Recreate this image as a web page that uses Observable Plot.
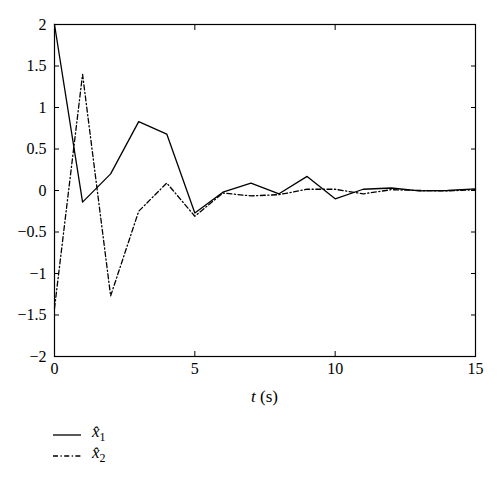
<!DOCTYPE html>
<html>
<head>
<meta charset="utf-8">
<script src="https://cdn.jsdelivr.net/npm/d3@7"></script>
<script src="https://cdn.jsdelivr.net/npm/@observablehq/plot@0.6"></script>
<style>
  body { margin: 0; background: #fff; font-family: "Liberation Serif", "DejaVu Serif", serif; }
  #chart svg { display: block; }
  .legend { position: relative; height: 71px; font-family: "Liberation Serif", serif; font-size: 17px; color: #000; }
  .legend .row { position: absolute; left: 53px; display: flex; align-items: center; }
  .legend svg { display: block; }
  .legend span { margin-left: 11px; font-style: italic; line-height: 20px; }
  .legend sub { font-style: normal; font-size: 12px; }
</style>
</head>
<body>
<div id="chart"></div>
<div class="legend" id="legend"></div>
<script>
const t = [0,1,2,3,4,5,6,7,8,9,10,11,12,13,14,15];
const x1 = [2, -0.14, 0.2, 0.83, 0.68, -0.27, -0.02, 0.09, -0.04, 0.17, -0.1, 0.015, 0.03, -0.005, 0, 0.02];
const x2 = [-1.42, 1.4, -1.27, -0.25, 0.09, -0.31, -0.03, -0.065, -0.05, 0.015, 0.015, -0.04, 0.01, 0, -0.005, 0.01];
const xTicks = [0, 5, 10, 15];
const yTicks = [-2, -1.5, -1, -0.5, 0, 0.5, 1, 1.5, 2];
const seriesNames = ["x̂", "x̂"];

const d1 = t.map((v, i) => ({t: v, y: x1[i]}));
const d2 = t.map((v, i) => ({t: v, y: x2[i]}));
const fmt = d => d < 0 ? "\u2212" + Math.abs(d) : String(d);
const serif = "Liberation Serif";

const chart = Plot.plot({
  width: 500,
  height: 410,
  marginLeft: 54,
  marginRight: 25,
  marginTop: 24,
  marginBottom: 54,
  style: {fontFamily: serif, fontSize: "16px", color: "#000", background: "#fff"},
  x: {domain: [0, 15]},
  y: {domain: [-2, 2]},
  marks: [
    Plot.frame({stroke: "#000", strokeWidth: 1.2}),
    Plot.axisX(xTicks, {anchor: "bottom", tickSize: -5, tickPadding: 11, tickFormat: fmt, label: null, stroke: "#000", fill: "#000", fontSize: 16, fontFamily: serif}),
    Plot.axisX(xTicks, {anchor: "top", tickSize: -5, tickFormat: () => "", label: null, stroke: "#000"}),
    Plot.axisY(yTicks, {anchor: "left", tickSize: -5, tickPadding: 13, tickFormat: fmt, label: null, stroke: "#000", fill: "#000", fontSize: 16, fontFamily: serif}),
    Plot.axisY(yTicks, {anchor: "right", tickSize: -5, tickFormat: () => "", label: null, stroke: "#000"}),
    Plot.line(d1, {x: "t", y: "y", stroke: "#000", strokeWidth: 1.3}),
    Plot.line(d2, {x: "t", y: "y", stroke: "#000", strokeWidth: 1.3, strokeDasharray: "5,2.5,1.2,2.5"})
  ]
});

const svg = d3.select(chart);
const xs = chart.scale("x");
const title = svg.append("text")
  .attr("x", (xs.range[0] + xs.range[1]) / 2)
  .attr("y", 402)
  .attr("text-anchor", "middle")
  .style("font-family", serif)
  .style("font-size", "17px")
  .attr("fill", "#000");
title.append("tspan").attr("font-style", "italic").text("t");
title.append("tspan").text(" (s)");

document.getElementById("chart").appendChild(chart);

// legend
const legend = document.getElementById("legend");
const dashes = [null, "5,2.5,1.2,2.5"];
const tops = [12, 33];
seriesNames.forEach((name, i) => {
  const row = document.createElement("div");
  row.className = "row";
  row.style.top = tops[i] + "px";
  row.innerHTML = `<svg width="28" height="20"><line x1="0" x2="28" y1="10" y2="10" stroke="#000" stroke-width="1.3" ${dashes[i] ? `stroke-dasharray="${dashes[i]}"` : ""}/></svg><span>${name}<sub>${i + 1}</sub></span>`;
  legend.appendChild(row);
});
</script>
</body>
</html>
